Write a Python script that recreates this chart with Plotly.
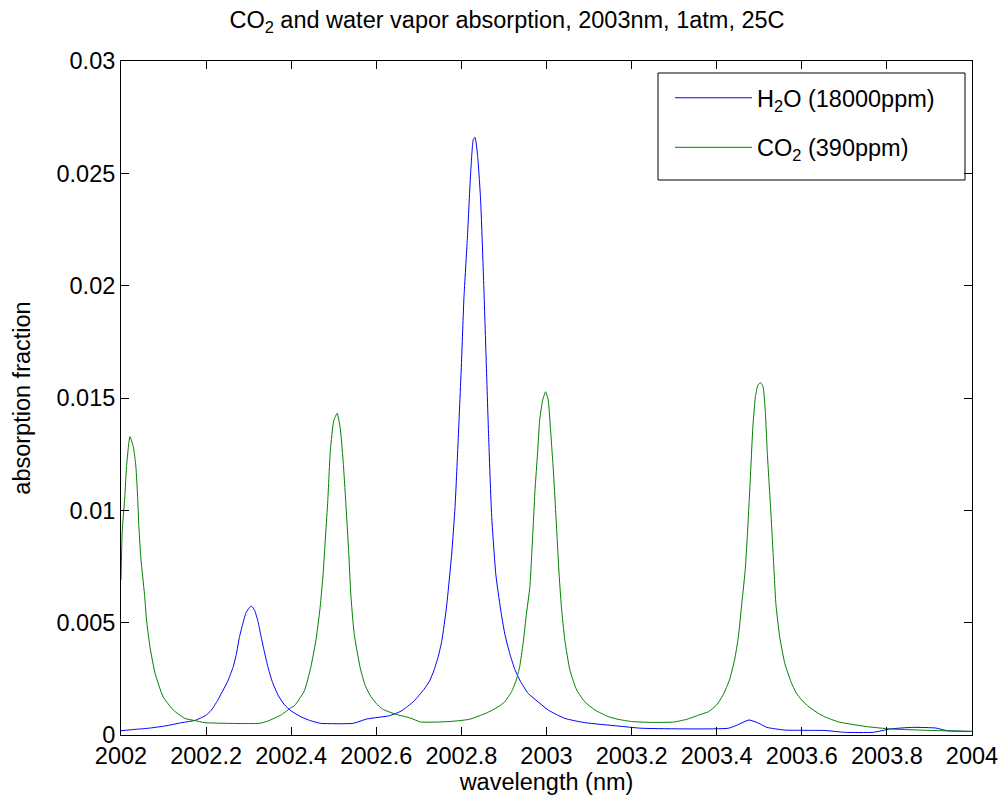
import plotly.graph_objects as go

# ---- data ----
wl_h2o = [2002.000, 2002.033, 2002.064, 2002.103, 2002.143, 2002.174, 2002.190, 2002.200,
          2002.212, 2002.224, 2002.239, 2002.251, 2002.263, 2002.271, 2002.278, 2002.286,
          2002.294, 2002.306, 2002.314, 2002.322, 2002.329, 2002.337, 2002.345, 2002.355,
          2002.369, 2002.384, 2002.400, 2002.424, 2002.445, 2002.469, 2002.546, 2002.577,
          2002.631, 2002.658, 2002.688, 2002.712, 2002.725, 2002.735, 2002.745, 2002.754,
          2002.765, 2002.777, 2002.785, 2002.792, 2002.800, 2002.806, 2002.814, 2002.822,
          2002.828, 2002.832, 2002.838, 2002.845, 2002.852, 2002.858, 2002.864, 2002.871,
          2002.881, 2002.892, 2002.902, 2002.914, 2002.926, 2002.937, 2002.957, 2002.980,
          2003.004, 2003.043, 2003.090, 2003.168, 2003.224, 2003.427, 2003.449, 2003.476,
          2003.499, 2003.518, 2003.560, 2003.655, 2003.700, 2003.768, 2003.808, 2003.862,
          2003.915, 2003.942, 2004.000]
abs_h2o = [0.00019, 0.00025, 0.00030, 0.00040, 0.00055, 0.00065, 0.00078, 0.00088,
           0.00110, 0.00144, 0.00196, 0.00240, 0.00300, 0.00359, 0.00433, 0.00493,
           0.00545, 0.00574, 0.00555, 0.00505, 0.00440, 0.00370, 0.00305, 0.00240,
           0.00178, 0.00135, 0.00107, 0.00080, 0.00064, 0.00052, 0.00052, 0.00071,
           0.00086, 0.00106, 0.00150, 0.00203, 0.00240, 0.00285, 0.00345, 0.00420,
           0.00570, 0.00802, 0.01013, 0.01295, 0.01647, 0.01947, 0.02211, 0.02510,
           0.02651, 0.02660, 0.02581, 0.02387, 0.02035, 0.01682, 0.01330, 0.00978,
           0.00713, 0.00560, 0.00450, 0.00360, 0.00290, 0.00245, 0.00185, 0.00148,
           0.00111, 0.00074, 0.00055, 0.00040, 0.00030, 0.00030, 0.00045, 0.00067,
           0.00052, 0.00034, 0.00022, 0.00020, 0.00012, 0.00012, 0.00027, 0.00034,
           0.00031, 0.00019, 0.00016]

wl_co2 = [2002.000, 2002.003, 2002.009, 2002.013, 2002.021, 2002.029, 2002.035, 2002.039,
          2002.042, 2002.047, 2002.055, 2002.060, 2002.068, 2002.080, 2002.099, 2002.123,
          2002.150, 2002.174, 2002.197, 2002.325, 2002.345, 2002.377, 2002.400, 2002.408,
          2002.431, 2002.446, 2002.458, 2002.468, 2002.475, 2002.481, 2002.486, 2002.492,
          2002.500, 2002.508, 2002.515, 2002.522, 2002.529, 2002.535, 2002.540, 2002.548,
          2002.562, 2002.573, 2002.585, 2002.600, 2002.615, 2002.646, 2002.681, 2002.704,
          2002.773, 2002.819, 2002.858, 2002.886, 2002.902, 2002.918, 2002.929, 2002.937,
          2002.945, 2002.953, 2002.961, 2002.965, 2002.969, 2002.973, 2002.979, 2002.984,
          2002.991, 2002.998, 2003.004, 2003.009, 2003.016, 2003.024, 2003.029, 2003.035,
          2003.043, 2003.055, 2003.071, 2003.090, 2003.114, 2003.145, 2003.168, 2003.200,
          2003.250, 2003.300, 2003.330, 2003.358, 2003.381, 2003.400, 2003.415, 2003.430,
          2003.442, 2003.451, 2003.459, 2003.467, 2003.474, 2003.480, 2003.485, 2003.491,
          2003.497, 2003.503, 2003.509, 2003.514, 2003.519, 2003.527, 2003.533, 2003.539,
          2003.548, 2003.560, 2003.575, 2003.586, 2003.600, 2003.617, 2003.640, 2003.655,
          2003.687, 2003.754, 2003.808, 2003.875, 2003.929, 2004.000]
abs_co2 = [0.00690, 0.00912, 0.01061, 0.01194, 0.01328, 0.01283, 0.01194, 0.01061,
           0.00927, 0.00779, 0.00631, 0.00512, 0.00393, 0.00275, 0.00170, 0.00111,
           0.00074, 0.00064, 0.00055, 0.00052, 0.00062, 0.00090, 0.00122, 0.00131,
           0.00197, 0.00301, 0.00420, 0.00568, 0.00717, 0.00895, 0.01043, 0.01266,
           0.01399, 0.01432, 0.01369, 0.01221, 0.01013, 0.00820, 0.00628, 0.00450,
           0.00301, 0.00225, 0.00178, 0.00140, 0.00115, 0.00092, 0.00075, 0.00058,
           0.00060, 0.00070, 0.00097, 0.00125, 0.00148, 0.00193, 0.00245, 0.00304,
           0.00408, 0.00542, 0.00660, 0.00794, 0.00942, 0.01091, 0.01254, 0.01402,
           0.01491, 0.01528, 0.01491, 0.01372, 0.01180, 0.00912, 0.00734, 0.00571,
           0.00423, 0.00289, 0.00200, 0.00148, 0.00111, 0.00082, 0.00070, 0.00060,
           0.00056, 0.00058, 0.00070, 0.00089, 0.00104, 0.00134, 0.00178, 0.00245,
           0.00334, 0.00438, 0.00586, 0.00734, 0.00957, 0.01180, 0.01372, 0.01506,
           0.01558, 0.01568, 0.01550, 0.01447, 0.01254, 0.01001, 0.00794, 0.00586,
           0.00438, 0.00319, 0.00235, 0.00190, 0.00155, 0.00125, 0.00095, 0.00080,
           0.00058, 0.00037, 0.00027, 0.00022, 0.00019, 0.00016]

x_ticks = [2002.0, 2002.2, 2002.4, 2002.6, 2002.8, 2003.0, 2003.2, 2003.4, 2003.6, 2003.8, 2004.0]
x_labels = ["2002", "2002.2", "2002.4", "2002.6", "2002.8", "2003", "2003.2", "2003.4",
            "2003.6", "2003.8", "2004"]
y_ticks = [0, 0.005, 0.01, 0.015, 0.02, 0.025, 0.03]
y_labels = ["0", "0.005", "0.01", "0.015", "0.02", "0.025", "0.03"]

names = ["H<sub>2</sub>O (18000ppm)", "CO<sub>2</sub> (390ppm)"]
title_text = "CO<sub>2</sub> and water vapor absorption, 2003nm, 1atm, 25C"
x_title = "wavelength (nm)"
y_title = "absorption fraction"

FONT = "Liberation Sans, Arial, sans-serif"
FS = 23.5

W, H = 1008, 806
L, R, T, B = 121, 972, 61, 735


def px_x(p):
    return (p - L) / (R - L)


def px_y(p):
    return (B - p) / (B - T)


fig = go.Figure()
fig.add_trace(go.Scatter(x=wl_h2o, y=abs_h2o, mode="lines", name=names[0],
                         legendgroup="a",
                         line=dict(color="#0000FF", width=1, shape="spline", smoothing=0.5)))
fig.add_trace(go.Scatter(x=wl_co2, y=abs_co2, mode="lines", name=names[1],
                         legendgroup="b",
                         line=dict(color="#008000", width=1, shape="spline", smoothing=0.5)))

axis_common = dict(showline=True, linecolor="black", linewidth=1, mirror="ticks",
                   ticks="inside", ticklen=8, tickcolor="black", tickwidth=1,
                   showgrid=False, zeroline=False,
                   tickfont=dict(family=FONT, size=FS, color="black"))

fig.update_layout(
    width=W, height=H,
    margin=dict(l=L, r=W - R, t=T, b=H - B, autoexpand=False),
    paper_bgcolor="white", plot_bgcolor="white",
    font=dict(family=FONT, size=FS, color="black"),
    title=dict(text=title_text, x=507 / W, xanchor="center", xref="container",
               y=1 - 20 / H, yanchor="middle", yref="container",
               font=dict(family=FONT, size=FS, color="black")),
    xaxis=dict(range=[2002, 2004], tickvals=x_ticks, ticktext=x_labels,
               title=dict(text=x_title, standoff=0,
                          font=dict(family=FONT, size=FS)), **axis_common),
    yaxis=dict(range=[0, 0.03], tickvals=y_ticks, ticktext=y_labels,
               title=dict(text=y_title, standoff=19,
                          font=dict(family=FONT, size=FS)), **axis_common),
    legend=dict(x=px_x(670), y=px_y(76), xanchor="left", yanchor="top",
                bgcolor="rgba(0,0,0,0)", borderwidth=0,
                font=dict(family=FONT, size=FS, color="black"),
                itemwidth=77, tracegroupgap=16, traceorder="grouped"),
    shapes=[dict(type="rect", xref="paper", yref="paper",
                 x0=px_x(658), x1=px_x(965), y0=px_y(180), y1=px_y(73),
                 line=dict(color="black", width=1), fillcolor="rgba(0,0,0,0)",
                 layer="above")],
)

fig.write_html("out.html")
